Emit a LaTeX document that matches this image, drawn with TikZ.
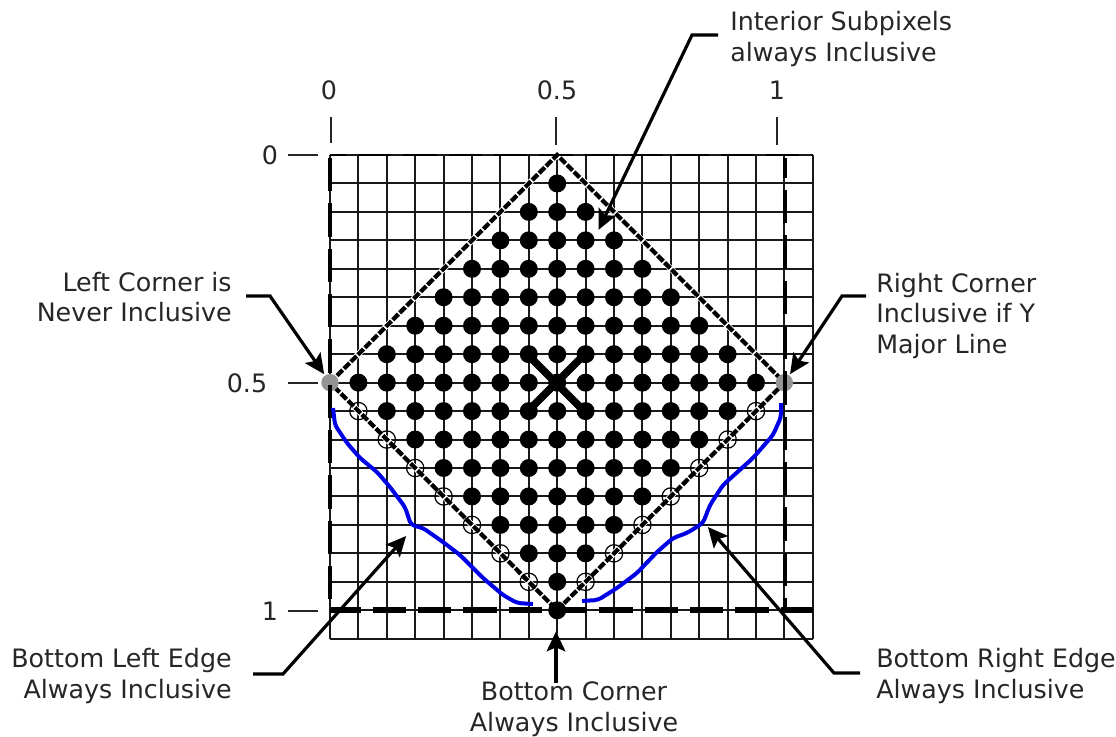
\documentclass[tikz,border=0pt]{standalone}
\usepackage{fontspec}
\setmainfont{DejaVu Sans}
\usetikzlibrary{arrows.meta}

\begin{document}
\begin{tikzpicture}[
  x=0.75pt, y=-0.75pt,
  font=\fontsize{19pt}{23pt}\selectfont,
  >={Stealth[length=15pt,width=14pt,inset=3pt]},
  label/.style={inner sep=0pt, text=black!85},
  gridline/.style={line width=1.5pt, draw=black!90},
  tick/.style={line width=1.1pt, draw=black!85},
  frame/.style={draw=black, dash pattern=on 25pt off 9pt},
  fulldot/.style={circle, fill=black, inner sep=0pt, minimum size=13.5pt},
  opendot/.style={circle, draw=black, line width=0.9pt, inner sep=0pt, minimum size=13pt},
  cornerdot/.style={circle, fill=black!42, inner sep=0pt, minimum size=13pt},
  bluecurve/.style={draw=blue!90!black, line width=3pt, rounded corners=3pt},
  arr/.style={->, line width=2.4pt, draw=black, shorten >=1pt}
]
\useasboundingbox (0,0) rectangle (1116,736);

% Grid
\begin{scope}[shift={(330,155)}, x=21.3pt, y=-21.34pt]
  \foreach \i in {0,...,17} \draw[gridline] (\i,0) -- (\i,17);
  \foreach \j in {0,...,17} \draw[gridline] (0,\j) -- (17,\j);

  % Diamond
  \draw[line width=4.4pt, draw=white] (0,8) -- (8,0) -- (16,8) -- (8,16) -- cycle;
  \draw[line width=3.2pt, dash pattern=on 6pt off 1.4pt] (0,8) -- (8,0) -- (16,8) -- (8,16) -- cycle;

  % Subpixels
  \foreach \i in {0,...,16} \foreach \j in {1,...,15} {
    \pgfmathtruncatemacro\dist{abs(\i-8)+abs(\j-8)}
    \ifnum\dist<8
      \node[fulldot] (s-\i-\j) at (\i,\j) {};
    \else\ifnum\dist=8 \ifnum\j>8
      \node[opendot] (s-\i-\j) at (\i,\j) {};
    \fi\fi\fi
  }
  \node[cornerdot] (lcorner) at (0,8) {};
  \node[cornerdot] (rcorner) at (16,8) {};
  \node[fulldot] (bcorner) at (8,16) {};
\end{scope}

% Pixel frame
\draw[frame, line width=2.2pt, dash phase=13pt] (330,155) -- (813,155);
\draw[frame, line width=4pt, dash phase=2pt] (330,610) -- (813,610);
\draw[frame, line width=2.6pt] (330,158) -- (330,610);
\draw[frame, line width=2.6pt, dash phase=10pt] (785,158) -- (785,610);

% Center cross
\draw[line width=5.6pt] (527,354) -- (585,412);
\draw[line width=5.6pt] (527,412) -- (585,354);

% Blue edges
\draw[bluecurve] (333,408) -- (335,425) -- (347,443) -- (360,458) -- (377,472) -- (390,487)
  -- (405,507) -- (411,525) -- (423,528) -- (443,542) -- (460,555) -- (483,578)
  -- (503,595) -- (517,603) -- (533,604);
\draw[bluecurve] (582,601) -- (598,600) -- (617,588) -- (637,573) -- (657,552) -- (673,538)
  -- (687,533) -- (703,523) -- (710,505) -- (723,485) -- (753,458) -- (773,435)
  -- (781,417) -- (781,403);

% Axis labels
\node[label] (x0) at (329,90) {0};
\node[label] (x5) at (557,90) {0.5};
\node[label] (x1) at (777,90) {1};
\node[label] (y0) at (270,155) {0};
\node[label] (y5) at (247,383) {0.5};
\node[label] (y1) at (270,611) {1};

\draw[tick] (331,117) -- (331,143);
\draw[tick] (556,117) -- (556,145);
\draw[tick] (777,117) -- (777,145);
\draw[tick] (288,155) -- (318,155);
\draw[tick] (288,383) -- (318,383);
\draw[tick] (288,611) -- (318,611);

% Callouts
\node[label, anchor=west, align=left] (interior) at (730,39)
  {Interior Subpixels\\always Inclusive};
\node[label, anchor=east, align=right] (leftc) at (232,297)
  {Left Corner is\\Never Inclusive};
\node[label, anchor=west, align=left] (rightc) at (876,316)
  {Right Corner\\Inclusive if Y\\Major Line};
\node[label, anchor=east, align=right] (bleft) at (232,676)
  {Bottom Left Edge\\Always Inclusive};
\node[label, anchor=west, align=left] (bright) at (876,676)
  {Bottom Right Edge\\Always Inclusive};
\node[label, align=center] (bottomc) at (574,709)
  {Bottom Corner\\Always Inclusive};

\coordinate (tinterior) at (598,231);
\coordinate (tbleft) at (407,535);
\coordinate (tbright) at (707,526);
\coordinate (tbottom) at (556,630);

\draw[arr] (718,35) -- (692,35) -- (tinterior);
\draw[arr] (246,296) -- (270,296) -- (lcorner);
\draw[arr] (866,296) -- (842,296) -- (rcorner);
\draw[arr] (253,674) -- (283,674) -- (tbleft);
\draw[arr] (860,673) -- (834,673) -- (tbright);
\draw[arr] (556,683) -- (tbottom);

\end{tikzpicture}
\end{document}
